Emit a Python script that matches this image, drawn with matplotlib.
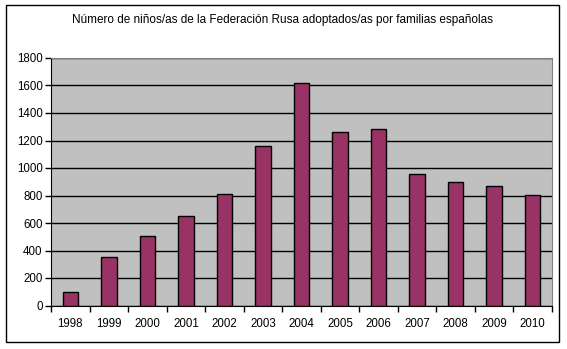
import matplotlib
matplotlib.use("Agg")
import matplotlib.pyplot as plt
from matplotlib.patches import Rectangle
import numpy as np

years = ["1998", "1999", "2000", "2001", "2002", "2003", "2004",
         "2005", "2006", "2007", "2008", "2009", "2010"]
values = [95, 352, 505, 650, 810, 1160, 1618, 1262, 1283, 956, 898, 869, 803]
title = "Número de niños/as de la Federación Rusa adoptados/as por familias españolas"

plt.rcParams['font.family'] = ['Liberation Sans', 'DejaVu Sans']

W, H = 567, 349
fig = plt.figure(figsize=(W / 100, H / 100), dpi=100)
fig.patch.set_facecolor("white")

# outer frame
fig.add_artist(Rectangle((5.5 / W, 1 - 342 / H), (559 - 5.5) / W, (342 - 5) / H,
                         transform=fig.transFigure, fill=False,
                         edgecolor="black", linewidth=1))

left, right, top, bottom = 51, 552, 58, 305.5
ax = fig.add_axes([left / W, 1 - bottom / H, (right - left) / W, (bottom - top) / H])
ax.set_facecolor("#C0C0C0")

x = np.arange(len(years))
ax.bar(x, values, width=0.4, color="#993366", edgecolor="black", linewidth=1, zorder=3)

ax.set_xlim(-0.5, len(years) - 0.5)
ax.set_ylim(0, 1800)
ax.set_yticks(np.arange(0, 1801, 200))
ax.yaxis.grid(True, color="black", linewidth=1, zorder=1)
ax.set_axisbelow(True)

ax.set_xticks(x)
ax.set_xticklabels(years, fontsize=8.3)
ax.set_xticks(np.arange(-0.5, len(years), 1), minor=True)
ax.tick_params(axis="x", which="major", length=0, pad=9)
ax.tick_params(axis="x", which="minor", length=4, direction="out", width=1)
ax.tick_params(axis="y", length=4, direction="out", width=1, labelsize=8.3, pad=2)

for s in ["top", "right"]:
    ax.spines[s].set_color("#808080")
for s in ["left", "bottom"]:
    ax.spines[s].set_color("black")

fig.text(282 / W, 1 - 20 / H, title, ha="center", va="center", fontsize=8.5)

fig.savefig("out.png", dpi=100)
